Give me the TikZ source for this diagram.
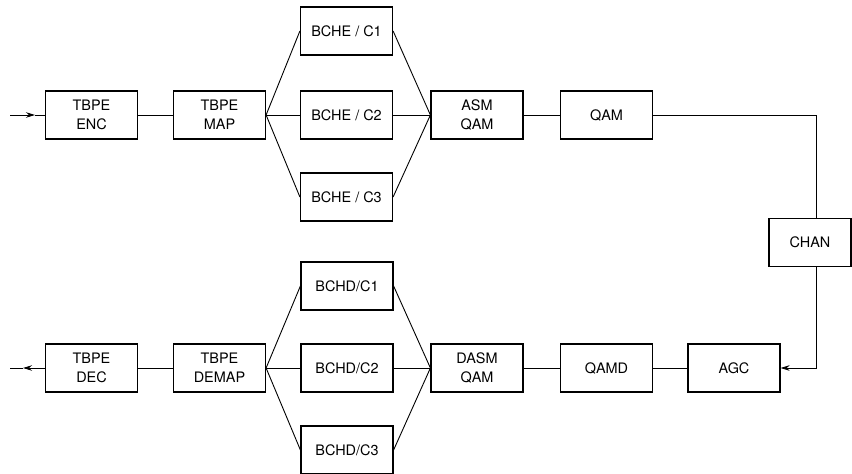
\documentclass[tikz,border=0pt]{standalone}
\usepackage{fontspec}
\setmainfont{TeX Gyre Heros}
\usetikzlibrary{arrows.meta}
\begin{document}
\begin{tikzpicture}[x=1bp,y=-1bp,
  blk/.style={draw,line width=1.2bp,minimum width=92bp,minimum height=48bp,inner sep=0pt,align=center,font=\fontsize{14.5}{19.5}\selectfont},
  wire/.style={line width=0.9bp},
  tip/.style={wire,-{Stealth[length=9bp,width=5.5bp]}}]
\useasboundingbox (0,0) rectangle (852,474);
% top row
\node[blk] (enc) at (91.5,115) {TBPE\\ENC};
\node[blk] (map) at (219.5,115) {TBPE\\MAP};
\node[blk] (c1) at (346.5,31) {BCHE / C1};
\node[blk] (c2) at (346.5,115) {BCHE / C2};
\node[blk] (c3) at (346.5,197) {BCHE / C3};
\node[blk] (asm) at (477,115) {ASM\\QAM};
\node[blk] (qam) at (606.5,115) {QAM};
\node[blk,minimum width=82bp] (chan) at (810,242.5) {CHAN};
% bottom row
\node[blk] (dec) at (91.5,368) {TBPE\\DEC};
\node[blk] (demap) at (219.5,368) {TBPE\\DEMAP};
\node[blk] (d1) at (347,286) {BCHD/C1};
\node[blk] (d2) at (347,368) {BCHD/C2};
\node[blk] (d3) at (347,450) {BCHD/C3};
\node[blk] (dasm) at (477,368) {DASM\\QAM};
\node[blk] (qamd) at (606.5,368) {QAMD};
\node[blk] (agc) at (734,368) {AGC};
% coordinates
\coordinate (in) at (10,115);
\coordinate (inm) at (35,115);
\coordinate (out) at (10,368);
\coordinate (outm) at (23,368);
\coordinate (k1) at (816,115);
\coordinate (k2) at (816,368);
% connectors top
\draw[tip] (in) -- (inm);
\draw[wire] (inm) -- (enc.west);
\draw[wire] (enc) -- (map);
\draw[wire] (map.east) -- (c1.west);
\draw[wire] (map.east) -- (c2.west);
\draw[wire] (map.east) -- (c3.west);
\draw[wire] (c1.east) -- (asm.west);
\draw[wire] (c2.east) -- (asm.west);
\draw[wire] (c3.east) -- (asm.west);
\draw[wire] (asm) -- (qam);
\draw[wire] (qam.east) -- (k1) -- (chan.north -| k1);
\draw[tip] (chan.south -| k2) -- (k2) -- (agc.east);
% connectors bottom
\draw[wire] (agc) -- (qamd);
\draw[wire] (qamd) -- (dasm);
\draw[wire] (dasm.west) -- (d1.east);
\draw[wire] (dasm.west) -- (d2.east);
\draw[wire] (dasm.west) -- (d3.east);
\draw[wire] (d1.west) -- (demap.east);
\draw[wire] (d2.west) -- (demap.east);
\draw[wire] (d3.west) -- (demap.east);
\draw[wire] (demap) -- (dec);
\draw[tip] (dec.west) -- (outm);
\draw[wire] (outm) -- (out);
\end{tikzpicture}
\end{document}
